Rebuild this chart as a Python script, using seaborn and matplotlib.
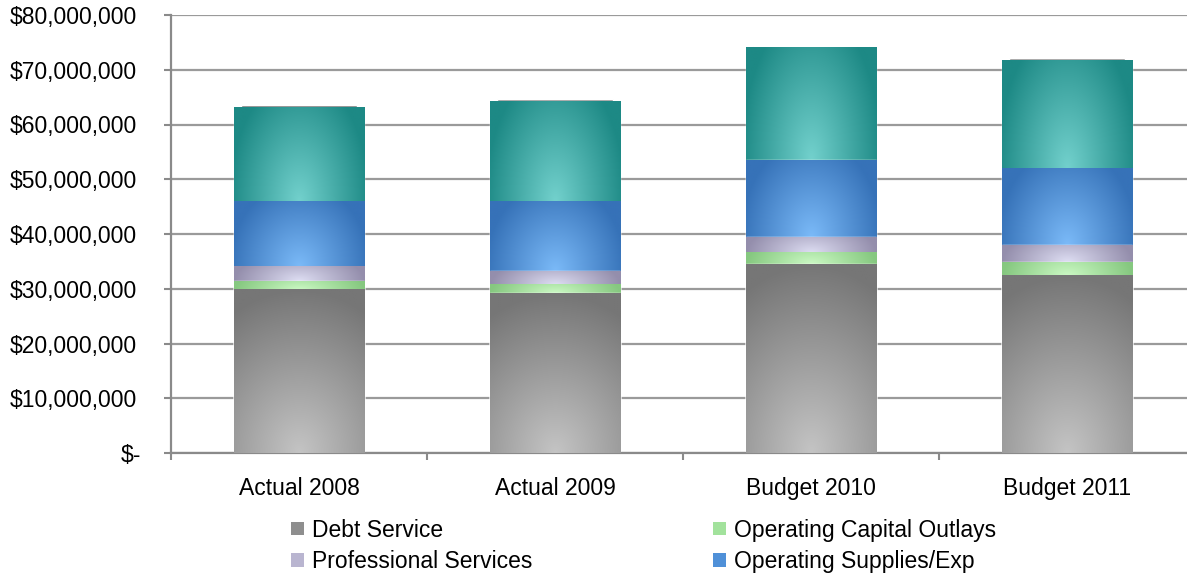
import numpy as np
import pandas as pd
import matplotlib
matplotlib.use("Agg")
import matplotlib.pyplot as plt
import seaborn as sns
from matplotlib.colors import to_rgb
from matplotlib.patches import Patch
from matplotlib.ticker import FuncFormatter, FixedLocator

# ---- data -------------------------------------------------------------
categories = ["Actual 2008", "Actual 2009", "Budget 2010", "Budget 2011"]
debt_service = [29.8e6, 29.2e6, 34.5e6, 32.4e6]
capital_outlays = [1.6e6, 1.5e6, 2.1e6, 2.5e6]
professional_services = [2.6e6, 2.5e6, 2.9e6, 3.0e6]
supplies_exp = [11.9e6, 12.7e6, 14.0e6, 14.0e6]
personal_services = [17.2e6, 18.4e6, 20.5e6, 19.9e6]

y_ticks = [0, 10e6, 20e6, 30e6, 40e6, 50e6, 60e6, 70e6, 80e6]

# series in stacking order (bottom -> top): name, values, centre colour, edge colour, (ku, kv)
series = [
    ("Debt Service", debt_service, "#c4c4c4", "#767676", (0.25, 1.0)),
    ("Operating Capital Outlays", capital_outlays, "#cbf9c4", "#86c880", (1.0, 0.15)),
    ("Professional Services", professional_services, "#dedef3", "#948eac", (1.0, 0.25)),
    ("Operating Supplies/Exp", supplies_exp, "#7bbaf8", "#3672b8", (0.85, 0.6)),
    ("Personal Services", personal_services, "#73d1cd", "#1d8985", (0.85, 0.55)),
]
legend_entries = [
    ("Debt Service", "#8e8e8e"),
    ("Professional Services", "#b9b5d0"),
    ("Operating Capital Outlays", "#a2e29c"),
    ("Operating Supplies/Exp", "#4f90d8"),
]

# ---- style --------------------------------------------------------------
sns.set_theme(style="white")
plt.rcParams["font.family"] = ["Liberation Sans", "DejaVu Sans"]
FS = 16.5
AXIS_GREY = "#8a8a8a"


def gradient(center, edge, ku, kv, n=80):
    """Shaded fill, lightest at the bottom centre of a bar segment."""
    u = np.linspace(-1, 1, n)
    v = np.linspace(0, 1, n)
    U, V = np.meshgrid(u, v)
    d = np.clip(np.sqrt(ku * U ** 2 + kv * V ** 2), 0, 1)[..., None]
    c = np.array(to_rgb(center))
    e = np.array(to_rgb(edge))
    return c * (1 - d) + e * d


fig = plt.figure(figsize=(11.87, 5.75), dpi=100)
ax = fig.add_axes([171 / 1187, 122 / 575, 1024 / 1187, 438 / 575])

bar_w = 0.51
cum = np.cumsum([np.array(s[1]) for s in series], axis=0)
bottoms = np.vstack([np.zeros(len(categories)), cum[:-1]])
totals = cum[-1]

# soft shadow peeking above each stack
sns.barplot(x=categories, y=totals + 0.42e6, color="#808080", width=0.455,
            ax=ax, order=categories, zorder=1.8, saturation=1)

# stacked segments: draw cumulative totals tallest first, then shade each segment
for k in range(len(series) - 1, -1, -1):
    name, vals, center, edge, (ku, kv) = series[k]
    n_before = len(ax.patches)
    sns.barplot(x=categories, y=cum[k], color=edge, width=bar_w, ax=ax,
                order=categories, zorder=2 + (len(series) - k) * 0.1, saturation=1)
    new_patches = ax.patches[n_before:]
    img = gradient(center, edge, ku, kv)
    for i, p in enumerate(new_patches):
        x0 = p.get_x()
        x1 = x0 + p.get_width()
        ax.imshow(img, extent=(x0, x1, bottoms[k][i], cum[k][i]), origin="lower",
                  aspect="auto", interpolation="bilinear",
                  zorder=2 + (len(series) - k) * 0.1 + 0.05)

# ---- axes -------------------------------------------------------------
ax.set_xlim(-0.5, 3.5)
ax.set_ylim(0, 80e6)
ax.set_yticks(y_ticks)
ax.yaxis.set_major_formatter(FuncFormatter(lambda v, _: "$-" if v == 0 else f"${v:,.0f}"))
ax.yaxis.grid(True, color="#9a9a9a", lw=1.6)
ax.xaxis.grid(False)
ax.set_axisbelow(True)
ax.set_xlabel("")
ax.set_ylabel("")

ax.set_xticks(range(len(categories)))
ax.set_xticklabels(categories)
ax.xaxis.set_minor_locator(FixedLocator(np.arange(-0.5, len(categories), 1.0)))
ax.tick_params(axis="x", which="major", length=0, pad=17, labelsize=FS, colors="black")
ax.tick_params(axis="x", which="minor", length=5, width=1.5, color=AXIS_GREY, bottom=True)
ax.tick_params(axis="y", which="major", length=5, width=1.5, color=AXIS_GREY,
               pad=19.5, labelsize=FS, labelcolor="black", left=True)
# the zero label sits a little further right, as in an accounting format
ax.yaxis.get_major_ticks()[0].set_pad(16.5)

for side in ("top", "right"):
    ax.spines[side].set_visible(False)
for side in ("left", "bottom"):
    ax.spines[side].set_color(AXIS_GREY)
    ax.spines[side].set_linewidth(1.6)

# ---- legend -----------------------------------------------------------
handles = [Patch(facecolor=c, edgecolor="none") for _, c in legend_entries]
labels = [n for n, _ in legend_entries]
fig.legend(handles, labels, ncol=2, loc="upper left",
           bbox_to_anchor=(291 / 1187, 0.098), frameon=False, fontsize=FS,
           labelcolor="black",
           handlelength=0.55, handleheight=0.55, handletextpad=0.35,
           columnspacing=7.9, labelspacing=0.36, borderpad=0, borderaxespad=0)

fig.savefig("out.png", dpi=100)
